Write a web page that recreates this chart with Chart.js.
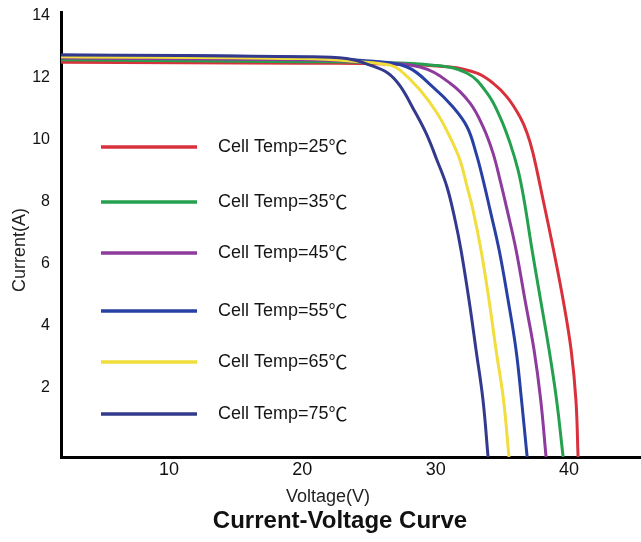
<!DOCTYPE html>
<html>
<head>
<meta charset="utf-8">
<title>Current-Voltage Curve</title>
<script src="https://cdn.jsdelivr.net/npm/chart.js@4"></script>
<style>
  html, body { margin: 0; padding: 0; background: #fff; }
  #wrap { width: 641px; height: 542px; position: relative; }
</style>
</head>
<body>
<div id="wrap"><canvas id="iv"></canvas></div>
<script>
/* global Chart */

const TEMPS = [25, 35, 45, 55, 65, 75];
const COLORS = ["#d8313b", "#25a04f", "#8d3b9d", "#2840a3", "#f1dd3c", "#333a8e"];
const X_TICKS = [10, 20, 30, 40];
const Y_TICKS = [2, 4, 6, 8, 10, 12, 14];

// [voltage (V), current (A)]
const IV_25 = [[1.9, 12.48], [20, 12.45], [25, 12.44], [31.08, 12.33], [33.1, 12.13], [34.3, 11.81], [35.36, 11.36], [36.33, 10.72], [36.86, 10.2], [37.3, 9.56], [38.06, 8.05], [38.84, 6.44], [39.56, 4.83], [40.16, 3.22], [40.52, 1.61], [40.68, -0.22]];
const IV_35 = [[1.9, 12.56], [20, 12.5], [25, 12.48], [29.8, 12.39], [32.36, 12.13], [33.86, 11.49], [34.83, 10.72], [35.58, 9.88], [36.18, 9.01], [36.63, 8.05], [37.23, 6.44], [37.87, 4.83], [38.51, 3.22], [39.07, 1.61], [39.56, -0.22]];
const IV_45 = [[1.9, 12.62], [20, 12.56], [25, 12.48], [28.83, 12.33], [31.08, 11.81], [32.58, 11.17], [33.56, 10.4], [34.3, 9.56], [34.83, 8.69], [35.36, 7.73], [36.03, 6.44], [36.7, 4.83], [37.38, 3.22], [37.88, 1.61], [38.28, -0.22]];
const IV_55 = [[1.9, 12.72], [20, 12.64], [25, 12.52], [27.85, 12.33], [29.8, 11.68], [31.3, 11.04], [32.36, 10.4], [33.03, 9.56], [33.56, 8.69], [34.08, 7.73], [34.76, 6.44], [35.43, 4.83], [36.03, 3.22], [36.44, 1.61], [36.86, -0.22]];
const IV_65 = [[1.9, 12.66], [20, 12.6], [24.3, 12.5], [26.58, 12.39], [27.33, 12.23], [28.83, 11.59], [30.1, 10.85], [31.08, 10.07], [31.83, 9.33], [32.36, 8.47], [32.8, 7.73], [33.4, 6.44], [34.0, 4.83], [34.53, 3.22], [35.09, 1.61], [35.5, -0.22]];
const IV_75 = [[1.9, 12.72], [20, 12.66], [23.3, 12.6], [25.08, 12.39], [26.43, 12.13], [27.33, 11.72], [28.38, 10.94], [29.28, 10.2], [30.1, 9.33], [30.85, 8.47], [31.46, 7.4], [31.9, 6.44], [32.5, 4.83], [33.03, 3.22], [33.55, 1.61], [33.93, -0.22]];
const CURVES = [IV_25, IV_35, IV_45, IV_55, IV_65, IV_75];

const X_TITLE = "Voltage(V)";
const Y_TITLE = "Current(A)";
const CHART_TITLE = "Current-Voltage Curve";

const FONT = "'Liberation Sans', Arial, sans-serif";
const CJK = "'Noto Sans CJK SC', sans-serif";
const LEGEND_ROWS = [147, 202, 253, 311, 362, 414];

// legend + titles sit at fixed spots in the original, so draw them by hand
const ivText = {
	id: "ivText",
	afterDraw(chart) {
		const { ctx } = chart;
		ctx.save();
		ctx.textBaseline = "middle";
		ctx.textAlign = "left";
		chart.data.datasets.forEach((ds, i) => {
			const y = LEGEND_ROWS[i];
			ctx.strokeStyle = ds.borderColor;
			ctx.lineWidth = 3.5;
			ctx.beginPath();
			ctx.moveTo(101, y);
			ctx.lineTo(197, y);
			ctx.stroke();
			ctx.fillStyle = "#151515";
			const head = ds.label.slice(0, -1);
			ctx.font = `18px ${FONT}`;
			ctx.fillText(head, 218, y);
			const w = ctx.measureText(head).width;
			ctx.font = `19px ${CJK}`;
			ctx.fillText(ds.label.slice(-1), 218 + w, y);
		});

		ctx.fillStyle = "#222";
		ctx.font = `18px ${FONT}`;
		ctx.textAlign = "center";
		ctx.fillText(X_TITLE, 328, 497);

		ctx.save();
		ctx.translate(20, 250);
		ctx.rotate(-Math.PI / 2);
		ctx.fillText(Y_TITLE, 0, 0);
		ctx.restore();

		ctx.fillStyle = "#111";
		ctx.font = `bold 24px ${FONT}`;
		ctx.fillText(CHART_TITLE, 340, 521);
		ctx.restore();
	},
};

new Chart(document.getElementById("iv"), {
	type: "line",
	data: {
		datasets: TEMPS.map((t, i) => ({
			label: `Cell Temp=${t}℃`,
			data: CURVES[i].map(([x, y]) => ({ x, y })),
			borderColor: COLORS[i],
			backgroundColor: COLORS[i],
			borderWidth: 3,
			pointRadius: 0,
			tension: 0.4,
			order: TEMPS.length - i,
		})),
	},
	options: {
		responsive: true,
		maintainAspectRatio: false,
		animation: false,
		layout: { padding: { top: 12, right: 0, bottom: 0, left: 0 } },
		scales: {
			x: {
				type: "linear",
				min: 1.9,
				max: 45.4,
				afterBuildTicks: (s) => { s.ticks = X_TICKS.map((value) => ({ value })); },
				afterFit: (s) => { s.height = 85; s.paddingLeft = 0; s.paddingRight = 0; },
				grid: { display: false, drawTicks: false },
				border: { color: "#000", width: 3 },
				ticks: { color: "#111", padding: 2, font: { size: 18, family: FONT } },
			},
			y: {
				min: -0.22,
				max: 14.1,
				afterBuildTicks: (s) => { s.ticks = Y_TICKS.map((value) => ({ value })); },
				afterFit: (s) => { s.width = 61; s.paddingTop = 0; s.paddingBottom = 0; },
				grid: { display: false, drawTicks: false },
				border: { color: "#000", width: 3 },
				ticks: { color: "#111", padding: 11, font: { size: 16, family: FONT } },
			},
		},
		plugins: {
			legend: { display: false },
			tooltip: { enabled: false },
		},
	},
	plugins: [ivText],
});
</script>
</body>
</html>
